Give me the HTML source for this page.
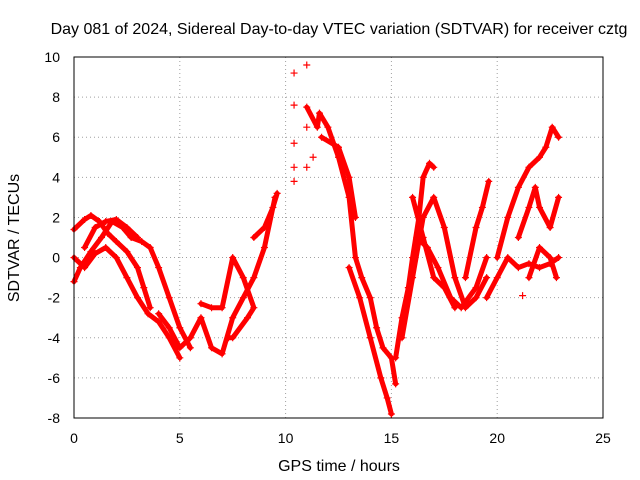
<!DOCTYPE html>
<html><head><meta charset="utf-8"><style>
body{margin:0;background:#fff}
svg{display:block;font-family:"Liberation Sans",sans-serif}
</style></head><body>
<svg id="chart" width="640" height="480">
<text x="339" y="34" font-size="16" text-anchor="middle">Day 081 of 2024, Sidereal Day-to-day VTEC variation (SDTVAR) for receiver cztg</text>
<text x="339" y="471" font-size="16" text-anchor="middle">GPS time / hours</text>
<text transform="translate(19,238) rotate(-90)" font-size="16" text-anchor="middle">SDTVAR / TECUs</text>
<g id="grid"></g><g id="ticks"></g><g id="marks"></g>
<rect x="74" y="57" width="529" height="361" fill="none" stroke="#000"/>
</svg>
<script>
const xTicks=[0,5,10,15,20,25];
const yTicks=[10,8,6,4,2,0,-2,-4,-6,-8];
const trackA=[[0,1.4],[0.5,1.9],[0.8,2.1],[1.2,1.8],[1.6,1.2],[2.0,0.8],[2.5,0.3],[3.0,-0.5],[3.3,-1.5],[3.6,-2.5]];
const trackB=[[0,-1.2],[0.3,-0.5],[0.8,0.3],[1.3,1.0],[1.8,1.8],[2.3,1.5],[2.7,1.0],[3.2,0.8],[3.6,0.5],[4.0,-0.5],[4.5,-2.0],[5.0,-3.5],[5.5,-4.5]];
const trackC=[[0,0],[0.5,-0.5],[1,0.2],[1.5,0.5],[2,0],[2.5,-1],[3,-2],[3.5,-2.8],[4,-3.2],[4.5,-4],[5,-5]];
const trackD=[[0.5,0.5],[1,1.5],[1.5,1.8],[2,1.9],[2.5,1.5],[3,1.0]];
const trackE=[[4,-2.8],[4.5,-3.5],[5,-4.5],[5.5,-4],[6,-3],[6.5,-4.5],[7,-4.8],[7.5,-3],[8,-2],[8.5,-1],[9,0.5],[9.5,3]];
const trackF=[[6,-2.3],[6.5,-2.5],[7,-2.5],[7.5,0],[8,-1],[8.5,-2.5],[8.2,-3],[7.5,-4],[7.3,-4]];
const trackG=[[8.5,1],[9,1.5],[9.4,2.5],[9.6,3.2]];
const trackH=[[11,7.5],[11.5,6.5],[11.6,7.2],[12,6.5],[12.5,5],[13,3],[13.3,0],[13.6,-1],[14,-2],[14.3,-3.5],[14.6,-4.5],[15,-5],[15.2,-6.3]];
const trackI=[[13,-0.5],[13.5,-2],[14,-4],[14.5,-6],[14.8,-7],[15,-7.8]];
const trackJ=[[11.7,6],[12.5,5.5],[13,4],[13.3,2]];
const trackK=[[15.2,-5],[15.5,-3],[15.8,-1.5],[16,0],[16.3,2],[16.5,4],[16.8,4.7],[17,4.5]];
const trackL=[[15.5,-4],[16,-1],[16.5,2],[17,3],[17.5,1.5],[18,-1],[18.5,-2.5],[19,-2],[19.5,-1]];
const trackM=[[16.2,1],[16.7,0.5],[17.2,-0.5],[17.8,-2],[18.3,-2.5],[19,-1.5],[19.5,0]];
const trackN=[[16,3],[16.5,1],[17,-1],[17.5,-1.5],[18,-2.5]];
const trackO=[[18.5,-1],[19,1.5],[19.3,2.5],[19.6,3.8]];
const trackP=[[19.5,-2],[20,-1],[20.5,0],[21,-0.5],[21.5,-0.3],[22,-0.5],[22.5,-0.3],[22.9,0]];
const trackQ=[[20,0],[20.5,2],[21,3.5],[21.5,4.5],[22,5.0],[22.3,5.5],[22.6,6.5],[22.9,6]];
const trackR=[[21,1],[21.5,2.5],[21.8,3.5],[22,2.5],[22.5,1.5],[22.9,3]];
const trackS=[[21.5,-1],[22,0.5],[22.5,0],[22.8,-1]];
const scatter=[[10.4,9.2],[10.4,7.6],[10.4,5.7],[10.4,4.5],[10.4,3.8],[11,9.6],[11,4.5],[11.3,5],[11,6.5],[21.2,-1.9]];
const tracks=[trackA,trackB,trackC,trackD,trackE,trackF,trackG,trackH,trackI,trackJ,trackK,trackL,trackM,trackN,trackO,trackP,trackQ,trackR,trackS];
const X=v=>74+v*529/25, Y=v=>418-(v+8)*361/18;
const NS="http://www.w3.org/2000/svg";
const grid=document.getElementById('grid'),ticks=document.getElementById('ticks'),marks=document.getElementById('marks');
function mk(tag,attrs,parent){const e=document.createElementNS(NS,tag);for(const k in attrs)e.setAttribute(k,attrs[k]);parent.appendChild(e);return e;}
xTicks.forEach(t=>{
 const g=mk('line',{x1:X(t),x2:X(t),y1:57,y2:418,stroke:'#a0a0a0','stroke-dasharray':'1,3'},grid);
 
 
 const l=mk('text',{x:X(t),y:443,'font-size':14,'text-anchor':'middle'},ticks);l.textContent=t;
 
 
});
yTicks.forEach(t=>{
 const g=mk('line',{x1:74,x2:603,y1:Y(t),y2:Y(t),stroke:'#a0a0a0','stroke-dasharray':'1,3'},grid);
 
 
 const l=mk('text',{x:60,y:Y(t)+5,'font-size':14,'text-anchor':'end'},ticks);l.textContent=t;
 
 
});
function plus(p){
 const x=X(p[0]),y=Y(p[1]);
 const m=mk('path',{d:`M${x-3.5},${y}h7M${x},${y-3.5}v7`,stroke:'#f00','stroke-width':1.2},marks);
 
 
}
tracks.forEach(tr=>{
 const pl=mk('polyline',{points:tr.map(p=>X(p[0])+','+Y(p[1])).join(' '),fill:'none',stroke:'#f00','stroke-width':5,'stroke-linejoin':'round','stroke-linecap':'round'},marks);
 
 
 tr.forEach(plus);
});
scatter.forEach(plus);
</script>
</body></html>
